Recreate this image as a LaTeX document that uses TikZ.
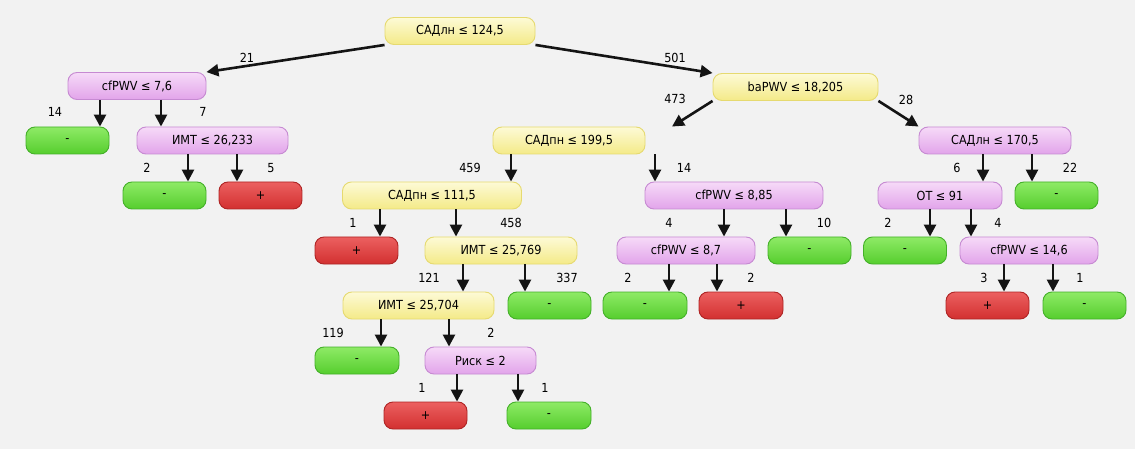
\documentclass[tikz,border=0pt]{standalone}
\usepackage{fontspec}
\setmainfont{DejaVu Sans}[FakeStretch=0.9]
\usetikzlibrary{arrows.meta}
\definecolor{bg}{HTML}{F2F2F2}
\definecolor{yelT}{HTML}{FDFAD6}
\definecolor{yelB}{HTML}{F4EA88}
\definecolor{yelD}{HTML}{E6DA70}
\definecolor{vioT}{HTML}{F6DAF8}
\definecolor{vioB}{HTML}{E2A4EA}
\definecolor{vioD}{HTML}{C68AD2}
\definecolor{grnT}{HTML}{8EEA66}
\definecolor{grnB}{HTML}{56CE2E}
\definecolor{grnD}{HTML}{44B029}
\definecolor{redT}{HTML}{EC6060}
\definecolor{redB}{HTML}{D23030}
\definecolor{redD}{HTML}{AE2424}
\tikzset{
  box/.style={rounded corners=9pt, minimum height=27pt, inner sep=0pt, line width=0.9pt},
  yel/.style={box, draw=yelD, top color=yelT, bottom color=yelB},
  vio/.style={box, draw=vioD, top color=vioT, bottom color=vioB},
  grn/.style={box, draw=grnD, top color=grnT, bottom color=grnB},
  rd/.style={box, draw=redD, top color=redT, bottom color=redB},
  arr/.style={line width=2.6pt, draw=black!92, -{Triangle[width=12pt,length=12pt]}},
  lab/.style={inner sep=0pt}
}
\begin{document}
\begin{tikzpicture}[x=1pt,y=-1pt,font=\fontsize{12.5}{14}\selectfont]
\fill[bg] (0,0) rectangle (1135,449);
\useasboundingbox (0,0) rectangle (1135,449);

% nodes
\node[yel, minimum width=150pt] (root) at (460,31) {САДлн ≤ 124,5};
\node[vio, minimum width=138pt] (cf76) at (137,86) {cfPWV ≤ 7,6};
\node[yel, minimum width=165pt] (ba) at (795.5,87) {baPWV ≤ 18,205};
\node[grn, minimum width=83pt] (g1) at (67.5,140.5) {-};
\node[vio, minimum width=151pt] (imt26) at (212.5,140.5) {ИМТ ≤ 26,233};
\node[grn, minimum width=83pt] (g2) at (164.5,195.5) {-};
\node[rd, minimum width=83pt] (r1) at (260.5,195.5) {+};
\node[yel, minimum width=152pt] (sad199) at (569,140.5) {САДпн ≤ 199,5};
\node[vio, minimum width=152pt] (sad170) at (995,140.5) {САДлн ≤ 170,5};
\node[yel, minimum width=179pt] (sad111) at (432,195.5) {САДпн ≤ 111,5};
\node[vio, minimum width=178pt] (cf885) at (734,195.5) {cfPWV ≤ 8,85};
\node[rd, minimum width=83pt] (r2) at (356.5,250.5) {+};
\node[yel, minimum width=152pt] (imt769) at (501,250.5) {ИМТ ≤ 25,769};
\node[yel, minimum width=151pt] (imt704) at (418.5,305.5) {ИМТ ≤ 25,704};
\node[grn, minimum width=83pt] (g3) at (549.5,305.5) {-};
\node[grn, minimum width=84pt] (g4) at (357,360.5) {-};
\node[vio, minimum width=111pt] (risk) at (480.5,360.5) {Риск ≤ 2};
\node[rd, minimum width=83pt] (r3) at (425.5,415.5) {+};
\node[grn, minimum width=84pt] (g5) at (549,415.5) {-};
\node[vio, minimum width=138pt] (cf87) at (686,250.5) {cfPWV ≤ 8,7};
\node[grn, minimum width=83pt] (g6) at (809.5,250.5) {-};
\node[grn, minimum width=84pt] (g7) at (645,305.5) {-};
\node[rd, minimum width=84pt] (r4) at (741,305.5) {+};
\node[vio, minimum width=124pt] (ot) at (940,195.5) {ОТ ≤ 91};
\node[grn, minimum width=83pt] (g8) at (1056.5,195.5) {-};
\node[grn, minimum width=83pt] (g9) at (905,250.5) {-};
\node[vio, minimum width=138pt] (cf146) at (1029,250.5) {cfPWV ≤ 14,6};
\node[rd, minimum width=83pt] (r5) at (987.5,305.5) {+};
\node[grn, minimum width=83pt] (g10) at (1084.5,305.5) {-};

% diagonal connectors
\draw[arr] (root.south west) -- (cf76.north east);
\draw[arr] (root.south east) -- (ba.north west);
\draw[arr] (ba.south west) -- (sad199.north -| 672,0);
\draw[arr] (ba.south east) -- (sad170.north west);

% vertical connectors
\draw[arr] (cf76.south -| 100,0) -- (g1.north -| 100,0);
\draw[arr] (cf76.south -| 161,0) -- (imt26.north -| 161,0);
\draw[arr] (imt26.south -| 188,0) -- (g2.north -| 188,0);
\draw[arr] (imt26.south -| 237,0) -- (r1.north -| 237,0);
\draw[arr] (sad199.south -| 511,0) -- (sad111.north -| 511,0);
\draw[arr] (sad199.south -| 655,0) -- (cf885.north -| 655,0);
\draw[arr] (sad111.south -| 380,0) -- (r2.north -| 380,0);
\draw[arr] (sad111.south -| 456,0) -- (imt769.north -| 456,0);
\draw[arr] (imt769.south -| 463,0) -- (imt704.north -| 463,0);
\draw[arr] (imt769.south -| 525,0) -- (g3.north -| 525,0);
\draw[arr] (imt704.south -| 381,0) -- (g4.north -| 381,0);
\draw[arr] (imt704.south -| 449,0) -- (risk.north -| 449,0);
\draw[arr] (risk.south -| 457,0) -- (r3.north -| 457,0);
\draw[arr] (risk.south -| 518,0) -- (g5.north -| 518,0);
\draw[arr] (cf885.south -| 724,0) -- (cf87.north -| 724,0);
\draw[arr] (cf885.south -| 786,0) -- (g6.north -| 786,0);
\draw[arr] (cf87.south -| 669,0) -- (g7.north -| 669,0);
\draw[arr] (cf87.south -| 717,0) -- (r4.north -| 717,0);
\draw[arr] (sad170.south -| 983,0) -- (ot.north -| 983,0);
\draw[arr] (sad170.south -| 1032,0) -- (g8.north -| 1032,0);
\draw[arr] (ot.south -| 930,0) -- (g9.north -| 930,0);
\draw[arr] (ot.south -| 971,0) -- (cf146.north -| 971,0);
\draw[arr] (cf146.south -| 1004,0) -- (r5.north -| 1004,0);
\draw[arr] (cf146.south -| 1053,0) -- (g10.north -| 1053,0);

% labels
\node[lab] (l1) at (247,58) {21};
\node[lab] (l2) at (675,58) {501};
\node[lab] (l3) at (675,99) {473};
\node[lab] (l4) at (906,100) {28};
\node[lab] (l5) at (55,112) {14};
\node[lab] (l6) at (203,112) {7};
\node[lab] (l7) at (147,168) {2};
\node[lab] (l8) at (271,168) {5};
\node[lab] (l9) at (470,168) {459};
\node[lab] (l10) at (684,168) {14};
\node[lab] (l11) at (353,223) {1};
\node[lab] (l12) at (511,223) {458};
\node[lab] (l13) at (429,278) {121};
\node[lab] (l14) at (567,278) {337};
\node[lab] (l15) at (333,333) {119};
\node[lab] (l16) at (491,333) {2};
\node[lab] (l17) at (422,388) {1};
\node[lab] (l18) at (545,388) {1};
\node[lab] (l19) at (669,223) {4};
\node[lab] (l20) at (824,223) {10};
\node[lab] (l21) at (628,278) {2};
\node[lab] (l22) at (751,278) {2};
\node[lab] (l23) at (957,168) {6};
\node[lab] (l24) at (1070,168) {22};
\node[lab] (l25) at (888,223) {2};
\node[lab] (l26) at (998,223) {4};
\node[lab] (l27) at (984,278) {3};
\node[lab] (l28) at (1080,278) {1};
\end{tikzpicture}
\end{document}
